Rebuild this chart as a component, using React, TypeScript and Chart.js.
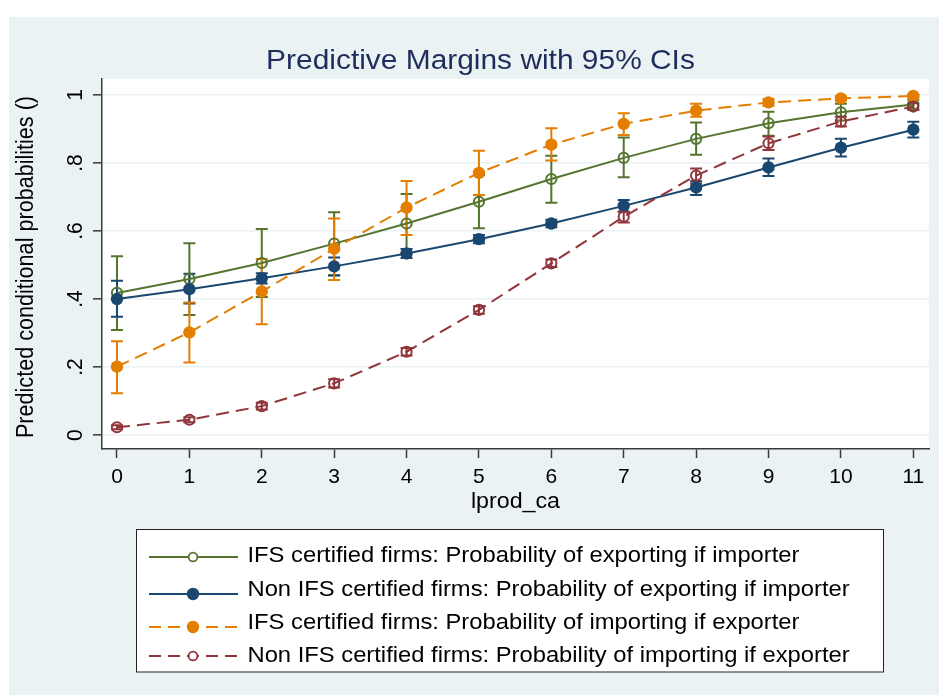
import React, { useEffect, useRef } from "react";
import { Chart, registerables } from "chart.js";

Chart.register(...registerables);

// ---------- data ----------
const xValues = [0, 1, 2, 3, 4, 5, 6, 7, 8, 9, 10, 11];
const xTickLabels = ["0", "1", "2", "3", "4", "5", "6", "7", "8", "9", "10", "11"];
const yTickValues = [0, 0.2, 0.4, 0.6, 0.8, 1];
const yTickLabels = ["0", ".2", ".4", ".6", ".8", "1"];

const chartTitle = "Predictive Margins with 95% CIs";
const xAxisTitle = "lprod_ca";
const yAxisTitle = "Predicted conditional probabilities ()";

const seriesLabels = [
  "IFS certified firms: Probability of exporting if importer",
  "Non IFS certified firms: Probability of exporting if importer",
  "IFS certified firms: Probability of importing if exporter",
  "Non IFS certified firms: Probability of importing if exporter",
];

const ifsExport = [0.418, 0.459, 0.506, 0.563, 0.622, 0.686, 0.753, 0.815, 0.871, 0.917, 0.949, 0.972];
const ifsExportLo = [0.309, 0.353, 0.406, 0.470, 0.535, 0.608, 0.683, 0.758, 0.824, 0.880, 0.925, 0.958];
const ifsExportHi = [0.526, 0.564, 0.606, 0.655, 0.709, 0.765, 0.821, 0.875, 0.919, 0.951, 0.974, 0.986];

const nonExport = [0.400, 0.429, 0.461, 0.496, 0.534, 0.576, 0.622, 0.674, 0.728, 0.787, 0.845, 0.898];
const nonExportLo = [0.348, 0.387, 0.446, 0.469, 0.521, 0.564, 0.611, 0.657, 0.706, 0.762, 0.819, 0.875];
const nonExportHi = [0.454, 0.474, 0.476, 0.522, 0.547, 0.588, 0.633, 0.691, 0.746, 0.813, 0.871, 0.921];

const ifsImport = [0.201, 0.302, 0.422, 0.548, 0.669, 0.771, 0.854, 0.915, 0.954, 0.978, 0.990, 0.997];
const ifsImportLo = [0.123, 0.213, 0.326, 0.456, 0.588, 0.706, 0.807, 0.882, 0.936, 0.968, 0.984, 0.993];
const ifsImportHi = [0.276, 0.390, 0.518, 0.637, 0.747, 0.836, 0.902, 0.946, 0.974, 0.988, 0.996, 1.001];

const nonImport = [0.023, 0.045, 0.085, 0.152, 0.245, 0.368, 0.505, 0.642, 0.763, 0.858, 0.922, 0.966];
const nonImportLo = [0.017, 0.038, 0.075, 0.140, 0.234, 0.357, 0.494, 0.625, 0.740, 0.838, 0.907, 0.956];
const nonImportHi = [0.029, 0.052, 0.095, 0.164, 0.256, 0.379, 0.516, 0.657, 0.784, 0.878, 0.936, 0.976];

// ---------- styles ----------
const GREEN = "#55752f";
const NAVY = "#1a476f";
const ORANGE = "#e37e00";
const MAROON = "#90353b";
const BG = "#eaf2f3";
const AXIS = "#3a3a3a";
const FONT = "'Liberation Sans', Arial, Helvetica, sans-serif";
const STRETCH = 1.08;
const DASH = [13, 7];

function stretchedText(
  ctx: CanvasRenderingContext2D,
  text: string,
  x: number,
  y: number,
  size: number,
  color: string,
  align: CanvasTextAlign,
  baseline: CanvasTextBaseline,
  rotate = 0
) {
  ctx.save();
  ctx.translate(x, y);
  ctx.scale(STRETCH, 1);
  if (rotate) ctx.rotate(rotate);
  ctx.font = `${size}px ${FONT}`;
  ctx.fillStyle = color;
  ctx.textAlign = align;
  ctx.textBaseline = baseline;
  ctx.fillText(text, 0, 0);
  ctx.restore();
}

const backgroundPlugin = {
  id: "stataBackground",
  beforeDraw(chart: any) {
    const { ctx, width, height, chartArea: ca } = chart;
    ctx.save();
    ctx.fillStyle = "#ffffff";
    ctx.fillRect(0, 0, width, height);
    ctx.fillStyle = BG;
    ctx.fillRect(9, 17, width - 9, height - 17);
    ctx.fillStyle = "#ffffff";
    ctx.fillRect(ca.left, ca.top, ca.right - ca.left, ca.bottom - ca.top);
    ctx.restore();
  },
};

const errorBarPlugin = {
  id: "errorBars",
  beforeDatasetsDraw(chart: any) {
    const { ctx } = chart;
    const xs = chart.scales.x;
    const ys = chart.scales.y;
    ctx.save();
    ctx.setLineDash([]);
    ctx.lineWidth = 2;
    chart.data.datasets.forEach((ds: any) => {
      if (!ds.errLo || !ds.errHi) return;
      ctx.strokeStyle = ds.borderColor;
      ds.data.forEach((pt: any, i: number) => {
        const px = xs.getPixelForValue(pt.x);
        const yLo = ys.getPixelForValue(ds.errLo[i]);
        const yHi = ys.getPixelForValue(ds.errHi[i]);
        const cap = 6;
        ctx.beginPath();
        ctx.moveTo(px, yLo);
        ctx.lineTo(px, yHi);
        ctx.moveTo(px - cap, yLo);
        ctx.lineTo(px + cap, yLo);
        ctx.moveTo(px - cap, yHi);
        ctx.lineTo(px + cap, yHi);
        ctx.stroke();
      });
    });
    ctx.restore();
  },
};

const textAndLegendPlugin = {
  id: "textAndLegend",
  afterDraw(chart: any) {
    const { ctx, chartArea: ca } = chart;
    const ys = chart.scales.y;

    // title
    stretchedText(ctx, chartTitle, 480.5, 68.5, 27.7, "#1e2d5c", "center", "alphabetic");

    // y tick labels (rotated)
    ys.ticks.forEach((t: any) => {
      const idx = yTickValues.indexOf(t.value);
      if (idx < 0) return;
      const py = ys.getPixelForValue(t.value);
      stretchedText(ctx, yTickLabels[idx], 82, py, 21, "#000", "center", "alphabetic", -Math.PI / 2);
    });

    // y axis title
    stretchedText(ctx, yAxisTitle, 33, 267, 21.6, "#000", "center", "alphabetic", -Math.PI / 2);

    // x axis title
    stretchedText(ctx, xAxisTitle, (ca.left + ca.right) / 2, 508, 21.5, "#000", "center", "alphabetic");

    // legend box
    const bx = 136.5, by = 529.5, bw = 747, bh = 142.5;
    ctx.save();
    ctx.fillStyle = "#ffffff";
    ctx.fillRect(bx, by, bw, bh);
    ctx.strokeStyle = "#222";
    ctx.lineWidth = 1;
    ctx.strokeRect(bx, by, bw, bh);
    ctx.restore();

    const lineYs = [557, 594, 627, 656];
    const textYs = [556, 590, 622.5, 656];
    chart.data.datasets.forEach((ds: any, i: number) => {
      const ly = lineYs[i];
      ctx.save();
      ctx.strokeStyle = ds.borderColor;
      ctx.lineWidth = 2;
      ctx.setLineDash(ds.borderDash && ds.borderDash.length ? [12, 7] : []);
      ctx.beginPath();
      ctx.moveTo(149, ly);
      ctx.lineTo(238, ly);
      ctx.stroke();
      ctx.setLineDash([]);
      ctx.beginPath();
      const hollow = ds.pointBackgroundColor === "rgba(0,0,0,0)";
      ctx.arc(193, ly, hollow ? 4.4 : 6.2, 0, Math.PI * 2);
      if (hollow) {
        ctx.fillStyle = "#ffffff";
        ctx.fill();
        ctx.lineWidth = 1.8;
        ctx.stroke();
      } else {
        ctx.fillStyle = ds.borderColor;
        ctx.fill();
      }
      ctx.restore();
      stretchedText(ctx, seriesLabels[i], 247.5, textYs[i], 22, "#000", "left", "middle");
    });
  },
};

function makeDataset(
  label: string,
  values: number[],
  lo: number[],
  hi: number[],
  color: string,
  hollow: boolean,
  dashed: boolean,
  order: number
) {
  return {
    label,
    data: xValues.map((x, i) => ({ x, y: values[i] })),
    errLo: lo,
    errHi: hi,
    borderColor: color,
    backgroundColor: color,
    borderWidth: 2,
    borderDash: dashed ? DASH : [],
    pointBackgroundColor: hollow ? "rgba(0,0,0,0)" : color,
    pointBorderColor: color,
    pointBorderWidth: hollow ? 2 : 0,
    pointRadius: hollow ? 5.1 : 6.2,
    pointHoverRadius: hollow ? 5.1 : 6.2,
    tension: 0,
    fill: false,
    order,
  };
}

export default function App() {
  const canvasRef = useRef<HTMLCanvasElement | null>(null);

  useEffect(() => {
    document.body.style.margin = "0";
    const canvas = canvasRef.current;
    if (!canvas) return;

    const chart = new Chart(canvas, {
      type: "line",
      data: {
        datasets: [
          makeDataset(seriesLabels[0], ifsExport, ifsExportLo, ifsExportHi, GREEN, true, false, 4),
          makeDataset(seriesLabels[1], nonExport, nonExportLo, nonExportHi, NAVY, false, false, 3),
          makeDataset(seriesLabels[2], ifsImport, ifsImportLo, ifsImportHi, ORANGE, false, true, 2),
          makeDataset(seriesLabels[3], nonImport, nonImportLo, nonImportHi, MAROON, true, true, 1),
        ] as any,
      },
      options: {
        responsive: false,
        animation: false,
        devicePixelRatio: 1,
        layout: { padding: { left: 0, top: 79, right: 10, bottom: 186 } },
        plugins: {
          legend: { display: false },
          title: { display: false },
          tooltip: { enabled: false },
        },
        scales: {
          x: {
            type: "linear",
            min: -0.207,
            max: 11.217,
            afterBuildTicks: (s: any) => {
              s.ticks = xValues.map((v) => ({ value: v }));
            },
            afterFit: (s: any) => {
              s.height = 60;
            },
            ticks: {
              autoSkip: false,
              maxRotation: 0,
              minRotation: 0,
              padding: 7,
              color: "#000",
              font: { family: FONT, size: 21 },
              callback: (v: any) => {
                const i = xValues.indexOf(Number(v));
                return i >= 0 ? xTickLabels[i] : "";
              },
            },
            grid: {
              drawOnChartArea: false,
              drawTicks: true,
              tickLength: 9,
              tickColor: AXIS,
              tickWidth: 1.5,
            },
            border: { display: true, color: AXIS, width: 1.5 },
          },
          y: {
            type: "linear",
            min: -0.041,
            max: 1.047,
            afterBuildTicks: (s: any) => {
              s.ticks = yTickValues.map((v) => ({ value: v }));
            },
            afterFit: (s: any) => {
              s.width = 102;
            },
            ticks: { display: false },
            grid: {
              color: BG,
              lineWidth: 1.6,
              drawTicks: true,
              tickLength: 9,
              tickColor: AXIS,
              tickWidth: 1.5,
            },
            border: { display: true, color: AXIS, width: 1.5 },
          },
        },
      } as any,
      plugins: [backgroundPlugin, errorBarPlugin, textAndLegendPlugin],
    });

    return () => {
      chart.destroy();
    };
  }, []);

  return (
    <canvas
      ref={canvasRef}
      width={939}
      height={695}
      style={{ display: "block", width: 939, height: 695 }}
    />
  );
}
